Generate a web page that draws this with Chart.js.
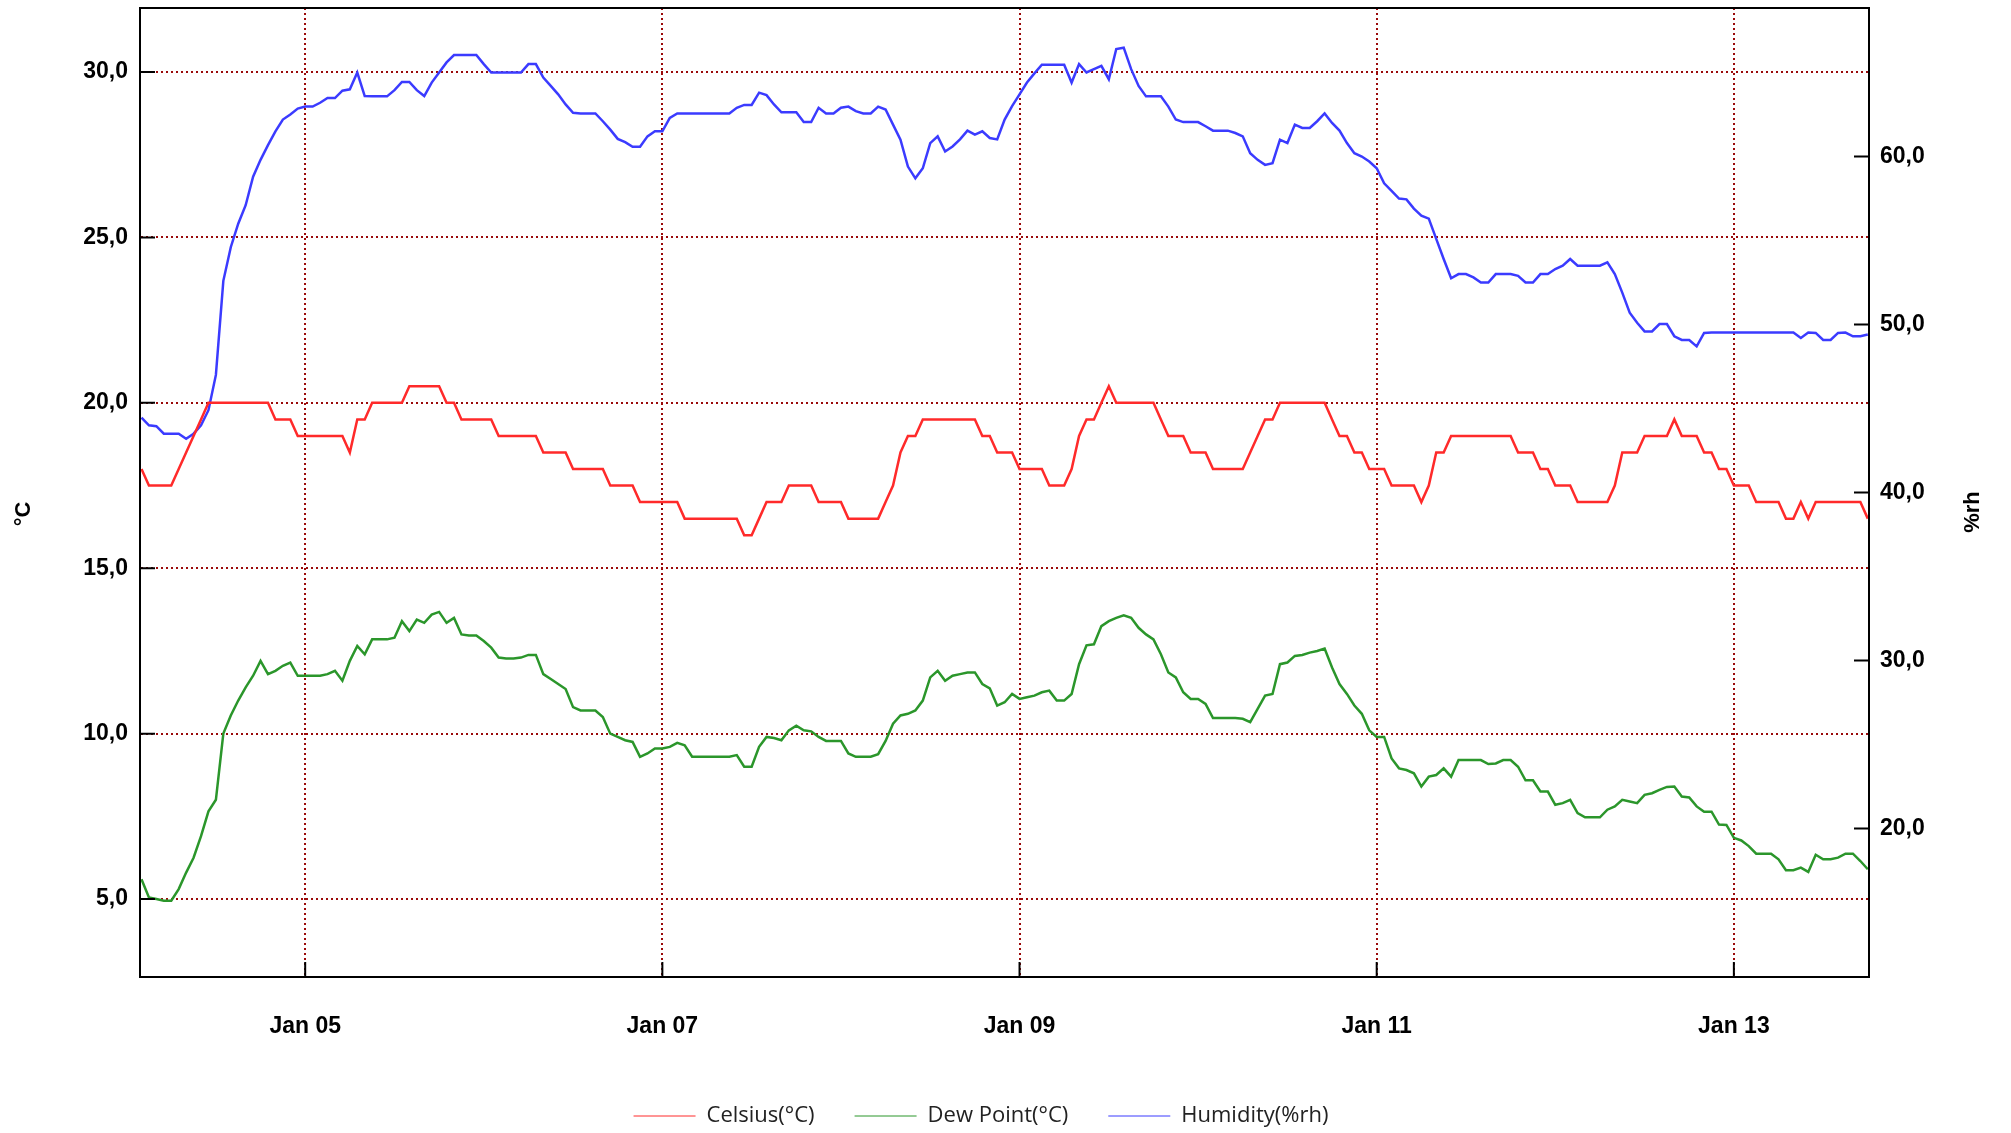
<!DOCTYPE html>
<html>
<head>
<meta charset="utf-8">
<script src="https://cdn.jsdelivr.net/npm/chart.js@4.4.1/dist/chart.umd.min.js"></script>
<style>
  html, body { margin: 0; padding: 0; background: #fff; }
</style>
</head>
<body>
<canvas id="myChart" width="2011" height="1133"></canvas>
<script>
// hourly readings, first one at Jan 04 02:00 (x = hours after Jan 04 00:00)
const startHour = 2;

const celsius = [
  18.0, 17.5, 17.5, 17.5, 17.5, 18.0, 18.5, 19.0, 19.5, 20.0, 20.0, 20.0, 20.0, 20.0, 20.0, 20.0, 20.0, 20.0, 19.5, 19.5, 19.5, 19.0,
  19.0, 19.0, 19.0, 19.0, 19.0, 19.0, 18.5, 19.5, 19.5, 20.0, 20.0, 20.0, 20.0, 20.0, 20.5, 20.5, 20.5, 20.5, 20.5, 20.0, 20.0, 19.5, 19.5, 19.5,
  19.5, 19.5, 19.0, 19.0, 19.0, 19.0, 19.0, 19.0, 18.5, 18.5, 18.5, 18.5, 18.0, 18.0, 18.0, 18.0, 18.0, 17.5, 17.5, 17.5, 17.5, 17.0, 17.0, 17.0,
  17.0, 17.0, 17.0, 16.5, 16.5, 16.5, 16.5, 16.5, 16.5, 16.5, 16.5, 16.0, 16.0, 16.5, 17.0, 17.0, 17.0, 17.5, 17.5, 17.5, 17.5, 17.0, 17.0, 17.0,
  17.0, 16.5, 16.5, 16.5, 16.5, 16.5, 17.0, 17.5, 18.5, 19.0, 19.0, 19.5, 19.5, 19.5, 19.5, 19.5, 19.5, 19.5, 19.5, 19.0, 19.0, 18.5, 18.5, 18.5,
  18.0, 18.0, 18.0, 18.0, 17.5, 17.5, 17.5, 18.0, 19.0, 19.5, 19.5, 20.0, 20.5, 20.0, 20.0, 20.0, 20.0, 20.0, 20.0, 19.5, 19.0, 19.0, 19.0, 18.5,
  18.5, 18.5, 18.0, 18.0, 18.0, 18.0, 18.0, 18.5, 19.0, 19.5, 19.5, 20.0, 20.0, 20.0, 20.0, 20.0, 20.0, 20.0, 19.5, 19.0, 19.0, 18.5, 18.5, 18.0,
  18.0, 18.0, 17.5, 17.5, 17.5, 17.5, 17.0, 17.5, 18.5, 18.5, 19.0, 19.0, 19.0, 19.0, 19.0, 19.0, 19.0, 19.0, 19.0, 18.5, 18.5, 18.5, 18.0, 18.0,
  17.5, 17.5, 17.5, 17.0, 17.0, 17.0, 17.0, 17.0, 17.5, 18.5, 18.5, 18.5, 19.0, 19.0, 19.0, 19.0, 19.5, 19.0, 19.0, 19.0, 18.5, 18.5, 18.0, 18.0,
  17.5, 17.5, 17.5, 17.0, 17.0, 17.0, 17.0, 16.5, 16.5, 17.0, 16.5, 17.0, 17.0, 17.0, 17.0, 17.0, 17.0, 17.0, 16.5
];

const dewPoint = [
  5.6, 5.05, 5.0, 4.95, 4.95, 5.3, 5.8, 6.25, 6.9, 7.65, 8.0, 10.0, 10.55, 11.0, 11.4, 11.75, 12.2, 11.8, 11.9, 12.05, 12.15, 11.75,
  11.75, 11.75, 11.75, 11.8, 11.9, 11.6, 12.2, 12.65, 12.4, 12.85, 12.85, 12.85, 12.9, 13.4, 13.1, 13.45, 13.35, 13.6, 13.68, 13.35, 13.5, 13.0, 12.97, 12.97,
  12.8, 12.6, 12.3, 12.27, 12.27, 12.3, 12.38, 12.38, 11.8, 11.65, 11.5, 11.35, 10.8, 10.7, 10.7, 10.7, 10.5, 10.0, 9.9, 9.8, 9.75, 9.3, 9.4, 9.55,
  9.55, 9.6, 9.72, 9.65, 9.3, 9.3, 9.3, 9.3, 9.3, 9.3, 9.35, 9.0, 9.0, 9.6, 9.9, 9.87, 9.8, 10.1, 10.24, 10.1, 10.07, 9.9, 9.78, 9.78,
  9.78, 9.4, 9.3, 9.3, 9.3, 9.38, 9.78, 10.3, 10.55, 10.6, 10.7, 11.0, 11.7, 11.9, 11.6, 11.75, 11.8, 11.85, 11.85, 11.5, 11.37, 10.85, 10.95, 11.2,
  11.05, 11.1, 11.15, 11.25, 11.3, 11.0, 11.0, 11.2, 12.1, 12.67, 12.7, 13.25, 13.4, 13.5, 13.58, 13.5, 13.2, 13.0, 12.85, 12.4, 11.85, 11.7, 11.25, 11.05,
  11.05, 10.9, 10.47, 10.47, 10.47, 10.47, 10.45, 10.35, 10.75, 11.15, 11.2, 12.1, 12.15, 12.35, 12.38, 12.45, 12.5, 12.57, 12.0, 11.5, 11.2, 10.85, 10.6, 10.1,
  9.9, 9.9, 9.25, 8.95, 8.9, 8.8, 8.4, 8.7, 8.75, 8.95, 8.7, 9.2, 9.2, 9.2, 9.2, 9.08, 9.1, 9.2, 9.2, 9.0, 8.59, 8.59, 8.25, 8.25,
  7.85, 7.9, 8.0, 7.6, 7.47, 7.47, 7.47, 7.7, 7.8, 8.0, 7.95, 7.9, 8.15, 8.2, 8.3, 8.39, 8.4, 8.1, 8.07, 7.8, 7.64, 7.64, 7.25, 7.24,
  6.85, 6.77, 6.6, 6.37, 6.37, 6.37, 6.2, 5.87, 5.87, 5.95, 5.82, 6.34, 6.2, 6.2, 6.25, 6.37, 6.37, 6.15, 5.9
];

const humidity = [
  44.45, 44.0, 43.95, 43.5, 43.5, 43.5, 43.2, 43.5, 44.0, 44.9, 47.0, 52.6, 54.6, 56.0, 57.1, 58.8, 59.8, 60.68, 61.5, 62.2, 62.5, 62.85,
  62.97, 62.97, 63.2, 63.48, 63.48, 63.92, 64.0, 65.0, 63.6, 63.58, 63.58, 63.58, 63.95, 64.44, 64.44, 63.95, 63.6, 64.4, 65.0, 65.6, 66.04, 66.04, 66.04, 66.04,
  65.5, 65.0, 65.0, 65.0, 65.0, 65.0, 65.5, 65.5, 64.7, 64.2, 63.7, 63.1, 62.6, 62.56, 62.56, 62.56, 62.1, 61.6, 61.05, 60.85, 60.58, 60.58, 61.2, 61.5,
  61.5, 62.3, 62.56, 62.56, 62.56, 62.56, 62.56, 62.56, 62.56, 62.56, 62.9, 63.07, 63.07, 63.8, 63.65, 63.1, 62.63, 62.63, 62.63, 62.05, 62.05, 62.9, 62.56, 62.56,
  62.9, 62.97, 62.7, 62.56, 62.56, 62.97, 62.8, 61.9, 61.0, 59.4, 58.7, 59.3, 60.8, 61.2, 60.3, 60.6, 61.02, 61.54, 61.3, 61.5, 61.1, 61.02, 62.2, 63.0,
  63.7, 64.4, 64.95, 65.46, 65.46, 65.46, 65.46, 64.4, 65.5, 65.0, 65.2, 65.4, 64.6, 66.4, 66.48, 65.2, 64.2, 63.58, 63.58, 63.58, 62.97, 62.2, 62.05, 62.05,
  62.05, 61.8, 61.54, 61.54, 61.54, 61.4, 61.2, 60.2, 59.8, 59.5, 59.6, 61.0, 60.8, 61.9, 61.7, 61.7, 62.1, 62.56, 62.0, 61.54, 60.8, 60.2, 60.0, 59.7,
  59.3, 58.4, 57.95, 57.5, 57.45, 56.9, 56.48, 56.3, 55.1, 53.9, 52.75, 53.0, 53.0, 52.8, 52.5, 52.5, 53.0, 53.0, 53.0, 52.9, 52.5, 52.5, 53.0, 53.0,
  53.3, 53.5, 53.9, 53.5, 53.5, 53.5, 53.5, 53.7, 53.0, 51.9, 50.7, 50.1, 49.59, 49.59, 50.03, 50.03, 49.3, 49.08, 49.08, 48.7, 49.5, 49.52, 49.52, 49.52,
  49.52, 49.52, 49.52, 49.52, 49.52, 49.52, 49.52, 49.52, 49.52, 49.2, 49.52, 49.5, 49.08, 49.08, 49.5, 49.52, 49.3, 49.3, 49.4
];

const tempTicks = [5, 10, 15, 20, 25, 30];
const humTicks = [20, 30, 40, 50, 60];
const dayTicks = [24, 72, 120, 168, 216]; // Jan 05, 07, 09, 11, 13 at midnight

const gridRed = "#9a0a0a";
const tickFont = { family: "'Liberation Sans', Arial, sans-serif", size: 23, weight: "bold" };

function toPoints(values) {
  return values.map((v, i) => ({ x: startHour + i, y: v }));
}

function commaLabel(v) {
  return v.toFixed(1).replace(".", ",");
}

// frame, inward tick marks and the two rotated axis titles
const framePlugin = {
  id: "frame",
  afterDatasetsDraw(chart) {
    const { ctx, chartArea: a, scales } = chart;
    ctx.save();
    ctx.strokeStyle = "#000";
    ctx.lineWidth = 2;
    ctx.strokeRect(a.left, a.top, a.right - a.left, a.bottom - a.top);
    ctx.beginPath();
    scales.y.ticks.forEach((t) => {
      const y = scales.y.getPixelForValue(t.value);
      ctx.moveTo(a.left, y);
      ctx.lineTo(a.left + 15, y);
    });
    scales.y1.ticks.forEach((t) => {
      const y = scales.y1.getPixelForValue(t.value);
      ctx.moveTo(a.right - 15, y);
      ctx.lineTo(a.right, y);
    });
    scales.x.ticks.forEach((t) => {
      const x = scales.x.getPixelForValue(t.value);
      ctx.moveTo(x, a.bottom - 15);
      ctx.lineTo(x, a.bottom);
    });
    ctx.stroke();

    ctx.fillStyle = "#000";
    ctx.font = "bold 22px 'Liberation Sans', Arial, sans-serif";
    ctx.textAlign = "center";
    ctx.textBaseline = "middle";
    [["°C", 24, 514], ["%rh", 1973, 512]].forEach(([txt, x, y]) => {
      ctx.save();
      ctx.translate(x, y);
      ctx.rotate(-Math.PI / 2);
      ctx.fillText(txt, 0, 0);
      ctx.restore();
    });
    ctx.restore();
  },
};

const data = {
  datasets: [
    {
      label: "Celsius(°C)",
      data: toPoints(celsius),
      borderColor: "#ff2a2a",
      backgroundColor: "#ff2a2a",
      yAxisID: "y",
    },
    {
      label: "Dew Point(°C)",
      data: toPoints(dewPoint),
      borderColor: "#2b962b",
      backgroundColor: "#2b962b",
      yAxisID: "y",
    },
    {
      label: "Humidity(%rh)",
      data: toPoints(humidity),
      borderColor: "#3b3bff",
      backgroundColor: "#3b3bff",
      yAxisID: "y1",
    },
  ],
};

const config = {
  type: "line",
  data: data,
  plugins: [framePlugin],
  options: {
    responsive: false,
    animation: false,
    layout: { padding: { left: 0, right: 49, top: 8, bottom: -4 } },
    elements: {
      point: { radius: 0 },
      line: { borderWidth: 2.5, tension: 0 },
    },
    scales: {
      x: {
        type: "linear",
        min: 1.8,
        max: 234.16,
        afterBuildTicks: (s) => { s.ticks = dayTicks.map((v) => ({ value: v })); },
        afterFit: (s) => { s.height = 88; s.paddingLeft = 0; s.paddingRight = 0; },
        grid: { color: gridRed, lineWidth: 2, drawTicks: false },
        border: { color: "#000", width: 2, dash: [2, 3] },
        ticks: {
          color: "#000",
          font: tickFont,
          padding: 36,
          maxRotation: 0,
          autoSkip: false,
          callback: (v) => "Jan " + String(4 + v / 24).padStart(2, "0"),
        },
      },
      y: {
        position: "left",
        min: 2.643,
        max: 31.937,
        afterBuildTicks: (s) => { s.ticks = tempTicks.map((v) => ({ value: v })); },
        afterFit: (s) => { s.width = 140; s.paddingTop = 0; s.paddingBottom = 0; },
        grid: { color: gridRed, lineWidth: 2, drawTicks: false },
        border: { color: "#000", width: 2, dash: [2, 3] },
        ticks: { color: "#000", font: tickFont, padding: 12, callback: commaLabel },
      },
      y1: {
        position: "right",
        min: 11.16,
        max: 68.84,
        afterBuildTicks: (s) => { s.ticks = humTicks.map((v) => ({ value: v })); },
        afterFit: (s) => { s.width = 93; s.paddingTop = 0; s.paddingBottom = 0; },
        grid: { drawOnChartArea: false, drawTicks: false },
        border: { color: "#000", width: 2 },
        ticks: { color: "#000", font: tickFont, padding: 11, callback: commaLabel },
      },
    },
    plugins: {
      legend: {
        position: "bottom",
        labels: {
          usePointStyle: true,
          pointStyle: "line",
          pointStyleWidth: 62,
          padding: 40,
          color: "#222",
          font: { family: "'Open Sans', sans-serif", size: 22 },
        },
      },
      tooltip: { enabled: false },
    },
  },
};

const myChart = new Chart(document.getElementById("myChart"), config);
</script>
</body>
</html>
